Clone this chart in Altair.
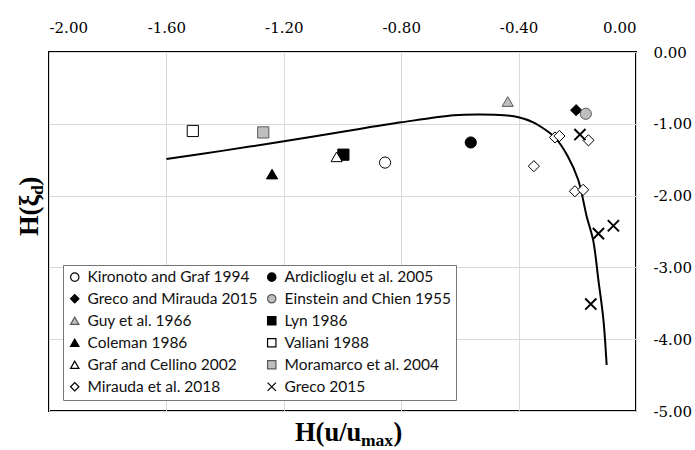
import altair as alt
import pandas as pd

# ---------------- data ----------------
# legend order (Vega fills legend columns top-to-bottom)
series_order = [
    "Kironoto and Graf 1994", "Greco and Mirauda 2015", "Guy et al. 1966",
    "Coleman 1986", "Graf and Cellino 2002", "Mirauda et al. 2018",
    "Ardiclioglu et al. 2005", "Einstein and Chien 1955", "Lyn 1986",
    "Valiani 1988", "Moramarco et al. 2004", "Greco 2015",
]

kironoto_x = [-0.855]; kironoto_y = [-1.54]
ardiclioglu_x = [-0.563]; ardiclioglu_y = [-1.26]
greco_mirauda_x = [-0.204]; greco_mirauda_y = [-0.81]
einstein_x = [-0.171]; einstein_y = [-0.86]
guy_x = [-0.437]; guy_y = [-0.69]
lyn_x = [-0.997]; lyn_y = [-1.43]
coleman_x = [-1.24]; coleman_y = [-1.70]
valiani_x = [-1.51]; valiani_y = [-1.10]
graf_cellino_x = [-1.02]; graf_cellino_y = [-1.46]
moramarco_x = [-1.27]; moramarco_y = [-1.12]
mirauda_x = [-0.276, -0.261, -0.162, -0.348, -0.208, -0.180]
mirauda_y = [-1.19, -1.17, -1.23, -1.59, -1.94, -1.92]
greco_x = [-0.191, -0.128, -0.077, -0.154]
greco_y = [-1.15, -2.53, -2.42, -3.51]

curve_x = [-1.60, -1.40, -1.21, -1.00, -0.80, -0.62, -0.53, -0.45, -0.40,
           -0.35, -0.31, -0.276, -0.233, -0.197, -0.168, -0.146, -0.128,
           -0.111, -0.100]
curve_y = [-1.49, -1.37, -1.25, -1.11, -0.98, -0.88, -0.87, -0.88, -0.91,
           -0.98, -1.08, -1.19, -1.45, -1.78, -2.29, -2.62, -3.18,
           -3.73, -4.36]

x_ticks = [-2.0, -1.6, -1.2, -0.8, -0.4, 0.0]
y_ticks = [0.0, -1.0, -2.0, -3.0, -4.0, -5.0]

# ---------------- styles ----------------
X_PATH = "M-1,-1L1,1M-1,1L1,-1"
GRAY = "#bfbfbf"
DARK = "#595959"
style = {
    "Kironoto and Graf 1994": ("circle", "white", "black"),
    "Ardiclioglu et al. 2005": ("circle", "black", "black"),
    "Greco and Mirauda 2015": ("diamond", "black", "black"),
    "Einstein and Chien 1955": ("circle", GRAY, DARK),
    "Guy et al. 1966": ("triangle-up", GRAY, DARK),
    "Lyn 1986": ("square", "black", "black"),
    "Coleman 1986": ("triangle-up", "black", "black"),
    "Valiani 1988": ("square", "white", "black"),
    "Graf and Cellino 2002": ("triangle-up", "white", "black"),
    "Moramarco et al. 2004": ("square", GRAY, DARK),
    "Mirauda et al. 2018": ("diamond", "white", "black"),
    "Greco 2015": (X_PATH, "black", "black"),
}
shapes = [style[s][0] for s in series_order]
fills = [style[s][1] for s in series_order]
strokes = [style[s][2] for s in series_order]

# drawing order = original series order
draw_order = [
    ("Kironoto and Graf 1994", kironoto_x, kironoto_y),
    ("Ardiclioglu et al. 2005", ardiclioglu_x, ardiclioglu_y),
    ("Greco and Mirauda 2015", greco_mirauda_x, greco_mirauda_y),
    ("Einstein and Chien 1955", einstein_x, einstein_y),
    ("Guy et al. 1966", guy_x, guy_y),
    ("Lyn 1986", lyn_x, lyn_y),
    ("Coleman 1986", coleman_x, coleman_y),
    ("Valiani 1988", valiani_x, valiani_y),
    ("Graf and Cellino 2002", graf_cellino_x, graf_cellino_y),
    ("Moramarco et al. 2004", moramarco_x, moramarco_y),
    ("Mirauda et al. 2018", mirauda_x, mirauda_y),
    ("Greco 2015", greco_x, greco_y),
]
rows = []
for name, xs, ys in draw_order:
    for xv, yv in zip(xs, ys):
        rows.append({"series": name, "x": xv, "y": yv})
pts = pd.DataFrame(rows)
curve = pd.DataFrame({"x": curve_x, "y": curve_y})

SERIF = "Liberation Serif"
TICK_FONT = "DejaVu Serif, serif"
label_expr = "replace(format(datum.value, '.2f'), '\u2212', '-')"

x_enc = alt.X("x:Q", scale=alt.Scale(domain=[-2, 0], nice=False, zero=False),
              axis=alt.Axis(orient="top", values=x_ticks, labelExpr=label_expr,
                            labelPadding=17, title=None, labelFont=TICK_FONT,
                            labelFontSize=15, labelColor="black"))
y_enc = alt.Y("y:Q", scale=alt.Scale(domain=[-5, 0], nice=False, zero=False),
              axis=alt.Axis(orient="right", values=y_ticks, labelExpr=label_expr,
                            labelPadding=17, title=None, labelFont=TICK_FONT,
                            labelFontSize=15, labelColor="black"))

legend = alt.Legend(
    title=None, orient="none", legendX=14, legendY=213, columns=2,
    fillColor="white", strokeColor="#767676", padding=4, symbolOffset=0,
    labelFont="Lato", labelFontSize=15.5, labelColor="#111111",
    symbolSize=70, symbolStrokeWidth=1.2, rowPadding=5, columnPadding=6,
    labelOffset=5, labelLimit=400,
)

def point_layer(filter_expr, sw):
    return alt.Chart(pts).transform_filter(filter_expr).mark_point(
        filled=True, opacity=1, size=125, strokeWidth=sw
    ).encode(
        x=x_enc, y=y_enc,
        shape=alt.Shape("series:N", scale=alt.Scale(domain=series_order, range=shapes), legend=legend),
        fill=alt.Fill("series:N", scale=alt.Scale(domain=series_order, range=fills), legend=legend),
        stroke=alt.Stroke("series:N", scale=alt.Scale(domain=series_order, range=strokes), legend=legend),
    )

line = alt.Chart(curve).mark_line(color="black", strokeWidth=2, interpolate="catmull-rom").encode(
    x=x_enc, y=y_enc, order=alt.Order("x:Q")
)

pts_main = point_layer("datum.series != 'Greco 2015'", 1)
pts_x = point_layer("datum.series == 'Greco 2015'", 2)

one = pd.DataFrame({"k": [0]})

def txt(text, x, y, size, angle=0):
    return alt.Chart(one).mark_text(
        text=text, font=SERIF, fontSize=size, fontWeight="bold", color="black",
        align="left", baseline="alphabetic", angle=angle
    ).encode(x=alt.value(x), y=alt.value(y))

titles = [
    txt("H(u/u", 246, 389, 26.5),
    txt("max", 312, 394, 17.5),
    txt(")", 344.5, 389, 26.5),
    txt("H(\u03be", -11, 184, 26.5, angle=270),
    txt("d", -6, 143, 17.5, angle=270),
    txt(")", -11, 133.5, 26.5, angle=270),
]

chart = alt.layer(line, pts_main, pts_x, *titles).properties(
    width=587, height=359,
    autosize=alt.AutoSizeParams(type="none"),
    padding={"left": 49, "top": 52, "right": 59, "bottom": 39},
    background="white",
).configure_view(
    stroke="black", strokeWidth=2
).configure_axis(
    labelFont=TICK_FONT, labelFontSize=15, labelColor="black",
    domain=False, ticks=False, tickSize=0,
    grid=True, gridColor="#d9d9d9", gridWidth=1,
)

chart.save("out.html", embed_options={"renderer": "svg", "actions": False})
